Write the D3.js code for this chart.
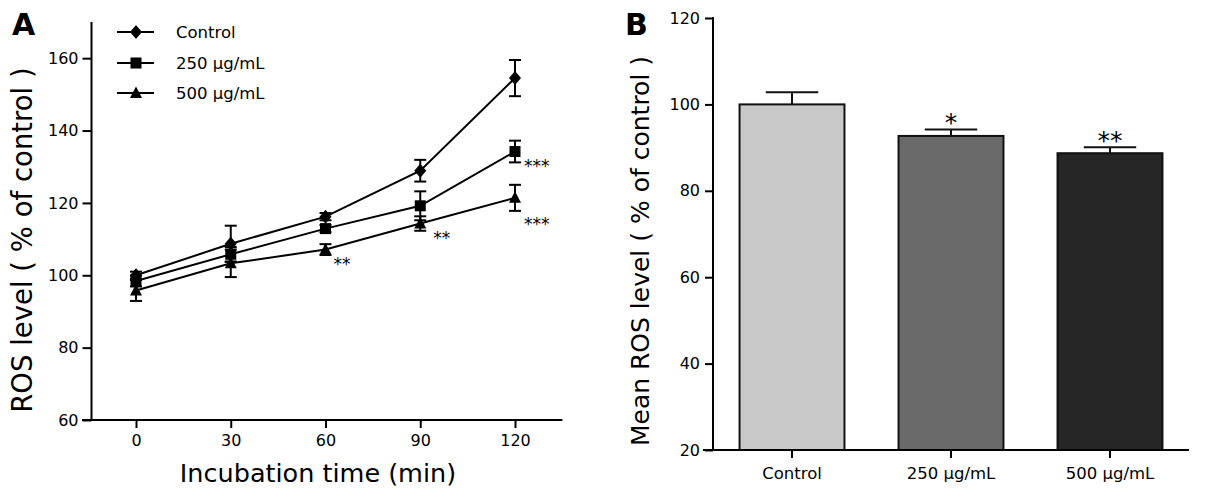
<!DOCTYPE html>
<html><head><meta charset="utf-8">
<script src="https://cdn.jsdelivr.net/npm/d3@7"></script>
<style>body{margin:0;background:#fff}svg{display:block}text{font-family:"DejaVu Sans",Verdana,sans-serif;fill:#000}</style>
</head><body><svg id="c" width="1209" height="490"></svg>
<script>
// ---- Panel A data ----
const times = [0, 30, 60, 90, 120];
const seriesNames = ["Control", "250 \u03BCg/mL", "500 \u03BCg/mL"];
const controlVals = [100, 108.7, 116.2, 128.9, 154.5];
const controlErr  = [1, 5, 1, 3, 5];
const c250Vals = [98.4, 105.8, 112.9, 119.2, 134.2];
const c250Err  = [1.5, 2, 1, 4, 3];
const c500Vals = [95.8, 103.3, 107.1, 114.3, 121.4];
const c500Err  = [2.9, 3.8, 1.5, 2, 3.6];
const aYTicks = [60, 80, 100, 120, 140, 160];
const aXTicks = [0, 30, 60, 90, 120];
// significance marks (series index, time index, label)
const aStars = [[2, 2, "**"], [2, 3, "**"], [1, 4, "***"], [2, 4, "***"]];

// ---- Panel B data ----
const bCats = ["Control", "250 \u03BCg/mL", "500 \u03BCg/mL"];
const bVals = [100, 92.7, 88.7];
const bErr  = [2.8, 1.5, 1.4];
const bStars = ["", "*", "**"];
const bYTicks = [20, 40, 60, 80, 100, 120];
const bColors = ["#c8c8c8", "#6a6a6a", "#262626"];

const svg = d3.select("#c");

// ================= Panel A =================
const ax = d3.scaleLinear().domain([0, 120]).range([136, 515]);
const ay = d3.scaleLinear().domain([60, 170]).range([420, 22]);
const gA = svg.append("g");

const yAxA = gA.append("g").attr("transform", "translate(91.5,0)")
  .call(d3.axisLeft(ay).tickValues(aYTicks).tickSize(9).tickPadding(4).tickFormat(d3.format("d")));
const xAxA = gA.append("g").attr("transform", "translate(0,420)")
  .call(d3.axisBottom(ax).tickValues(aXTicks).tickSize(8).tickPadding(7).tickFormat(d3.format("d")));
[yAxA, xAxA].forEach(a => {
  a.select(".domain").remove();
  a.selectAll("line").attr("stroke", "#000").attr("stroke-width", 2);
  a.selectAll("text").style("font-size", "16px").attr("fill", "#000");
});
gA.append("line").attr("x1", 91.5).attr("x2", 91.5).attr("y1", ay(170)).attr("y2", 421).attr("stroke", "#000").attr("stroke-width", 2);
gA.append("line").attr("x1", 82).attr("x2", ax(135)).attr("y1", 420).attr("y2", 420).attr("stroke", "#000").attr("stroke-width", 2);

gA.append("text").attr("x", 318).attr("y", 482).attr("text-anchor", "middle").style("font-size", "25.5px").text("Incubation time (min)");
gA.append("text").attr("transform", "translate(32,240) rotate(-90)").attr("text-anchor", "middle").style("font-size", "27.5px").text("ROS level ( % of control )");
svg.append("text").attr("x", 12).attr("y", 35).style("font-size", "30px").style("font-weight", "bold").text("A");

const seriesA = [
  {vals: controlVals, err: controlErr, shape: "diamond"},
  {vals: c250Vals, err: c250Err, shape: "square"},
  {vals: c500Vals, err: c500Err, shape: "triangle"}
];
function drawSym(g, shape, x, y) {
  if (shape === "diamond") {
    g.append("path").attr("d", "M0,-7L6,0L0,7L-6,0Z").attr("transform", `translate(${x},${y})`).attr("fill", "#000");
  } else if (shape === "square") {
    g.append("rect").attr("x", x - 5.5).attr("y", y - 5.5).attr("width", 11).attr("height", 11).attr("fill", "#000");
  } else {
    g.append("path").attr("d", "M0,-6.5L6,5L-6,5Z").attr("transform", `translate(${x},${y})`).attr("fill", "#000");
  }
}
const line = d3.line().x((d, i) => ax(times[i])).y(d => ay(d));
seriesA.forEach(s => {
  s.vals.forEach((v, i) => {
    const x = ax(times[i]);
    const y1 = ay(v + s.err[i]), y2 = ay(v - s.err[i]);
    gA.append("line").attr("x1", x).attr("x2", x).attr("y1", y1).attr("y2", y2).attr("stroke", "#000").attr("stroke-width", 2);
    [y1, y2].forEach(yy => gA.append("line").attr("x1", x - 6).attr("x2", x + 6).attr("y1", yy).attr("y2", yy).attr("stroke", "#000").attr("stroke-width", 2));
  });
  gA.append("path").datum(s.vals).attr("d", line).attr("fill", "none").attr("stroke", "#000").attr("stroke-width", 2);
});
seriesA.forEach(s => s.vals.forEach((v, i) => drawSym(gA, s.shape, ax(times[i]), ay(v))));

aStars.forEach(([si, ti, lab]) => {
  const x = ax(times[ti]), y = ay(seriesA[si].vals[ti]);
  const dy = (si === 2 && ti === 4) ? 32 : 20;
  const dx = ti === 4 ? 9 : (ti === 3 ? 13 : 8);
  gA.append("text").attr("x", x + dx).attr("y", y + dy).style("font-size", "17px").text(lab);
});

// legend
const legY = [32, 63, 93];
seriesA.forEach((s, i) => {
  gA.append("line").attr("x1", 117).attr("x2", 154).attr("y1", legY[i]).attr("y2", legY[i]).attr("stroke", "#000").attr("stroke-width", 2);
  drawSym(gA, s.shape, 136, legY[i]);
  gA.append("text").attr("x", 176).attr("y", legY[i] + 6).style("font-size", "16.5px").text(seriesNames[i]);
});

// ================= Panel B =================
const bx = d3.scaleBand().domain(bCats).range([713, 1189]).paddingInner(0.34).paddingOuter(0.167);
const by = d3.scaleLinear().domain([20, 120]).range([450, 18]);
const gB = svg.append("g");

bCats.forEach((c, i) => {
  const x0 = bx(c), w = bx.bandwidth();
  gB.append("rect").attr("x", x0).attr("y", by(bVals[i])).attr("width", w).attr("height", by(20) - by(bVals[i]))
    .attr("fill", bColors[i]).attr("stroke", "#111").attr("stroke-width", 2);
  const cx = x0 + w / 2, ye = by(bVals[i] + bErr[i]);
  gB.append("line").attr("x1", cx).attr("x2", cx).attr("y1", by(bVals[i])).attr("y2", ye).attr("stroke", "#111").attr("stroke-width", 2);
  gB.append("line").attr("x1", cx - w / 4).attr("x2", cx + w / 4).attr("y1", ye).attr("y2", ye).attr("stroke", "#111").attr("stroke-width", 2);
  if (bStars[i]) gB.append("text").attr("x", cx).attr("y", ye + 2).attr("text-anchor", "middle").style("font-size", "25px").text(bStars[i]);
});

const yAxB = gB.append("g").attr("transform", "translate(713,0)")
  .call(d3.axisLeft(by).tickValues(bYTicks).tickSize(8).tickPadding(5).tickFormat(d3.format("d")));
const xAxB = gB.append("g").attr("transform", "translate(0,450)")
  .call(d3.axisBottom(bx).tickSize(8).tickPadding(9));
[yAxB, xAxB].forEach(a => {
  a.select(".domain").remove();
  a.selectAll("line").attr("stroke", "#000").attr("stroke-width", 2);
  a.selectAll("text").attr("fill", "#000");
});
yAxB.selectAll("text").style("font-size", "16px");
xAxB.selectAll("text").style("font-size", "16.5px");
gB.append("line").attr("x1", 713).attr("x2", 713).attr("y1", 17).attr("y2", 451).attr("stroke", "#000").attr("stroke-width", 2);
gB.append("line").attr("x1", 703).attr("x2", 1189).attr("y1", 450).attr("y2", 450).attr("stroke", "#000").attr("stroke-width", 2);

gB.append("text").attr("transform", "translate(649,251) rotate(-90)").attr("text-anchor", "middle").style("font-size", "25px").text("Mean ROS level ( % of control )");
svg.append("text").attr("x", 625).attr("y", 35).style("font-size", "30px").style("font-weight", "bold").text("B");
</script></body></html>
